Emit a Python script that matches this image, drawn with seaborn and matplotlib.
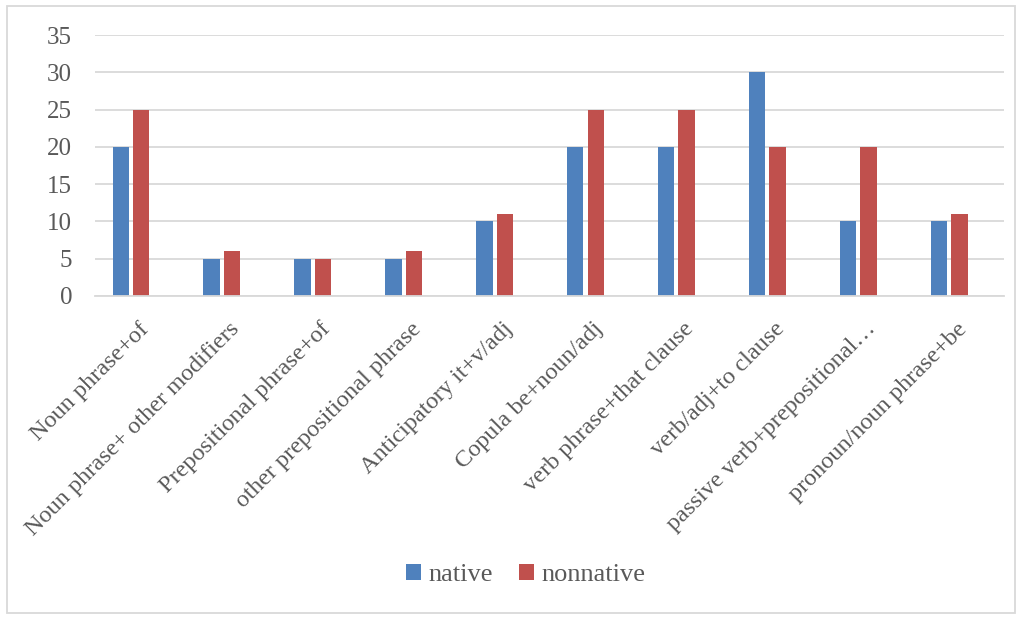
import matplotlib
matplotlib.use("Agg")
import matplotlib.pyplot as plt
import matplotlib.transforms as mtransforms
import seaborn as sns
import pandas as pd
from matplotlib.patches import Rectangle

sns.set_theme(style="white")
plt.rcParams['font.family'] = ['Liberation Serif', 'DejaVu Serif']

categories = ["Noun phrase+of", "Noun phrase+ other modifiers", "Prepositional phrase+of",
              "other prepositional phrase", "Anticipatory it+v/adj", "Copula be+noun/adj",
              "verb phrase+that clause", "verb/adj+to clause", "passive verb+prepositional\u2026",
              "pronoun/noun phrase+be"]
native = [20, 5, 5, 5, 10, 20, 20, 30, 10, 10]
nonnative = [25, 6, 5, 6, 11, 25, 25, 20, 20, 11]
yticks = [0, 5, 10, 15, 20, 25, 30, 35]

df = pd.DataFrame({"cat": categories * 2,
                   "value": native + nonnative,
                   "series": ["native"] * 10 + ["nonnative"] * 10})

fig = plt.figure(figsize=(10.22, 6.19), dpi=100)
ax = fig.add_axes([95 / 1022, 1 - 296 / 619, 909 / 1022, 261 / 619])

sns.barplot(data=df, x="cat", y="value", hue="series", ax=ax,
            palette=["#4F81BD", "#C0504D"], width=0.45, gap=0.2,
            saturation=1, edgecolor="none", legend=True)

ax.set_xlim(-0.396, 9.604)
ax.set_ylim(0, 35)
ax.set_yticks(yticks)
ax.set_yticklabels([str(t) for t in yticks], fontsize=18, color="#595959")
ax.tick_params(axis="y", length=0, pad=16.5)
ax.tick_params(axis="x", length=0, pad=4)
ax.set_xticks(range(len(categories)))
ax.set_xticklabels(categories, rotation=45, ha="right", va="top",
                   rotation_mode="anchor", fontsize=17.5, color="#595959")
shift = mtransforms.ScaledTranslation(0.07, -0.17, fig.dpi_scale_trans)
for lab in ax.get_xticklabels():
    lab.set_transform(lab.get_transform() + shift)
ax.set_xlabel("")
ax.set_ylabel("")
ax.yaxis.grid(True, color="#D9D9D9", lw=1.3)
ax.set_axisbelow(True)
for s in ["left", "right", "top"]:
    ax.spines[s].set_visible(False)
ax.spines["bottom"].set_color("#D9D9D9")
ax.spines["bottom"].set_linewidth(1.3)

h, l = ax.get_legend_handles_labels()
ax.get_legend().remove()
fig.legend(h, l, loc="center", bbox_to_anchor=(526 / 1022, 1 - 575 / 619), ncol=2,
           frameon=False, fontsize=19, handlelength=0.55, handleheight=0.55,
           handletextpad=0.3, columnspacing=1.0, labelcolor="#595959")

fig.patches.append(Rectangle((7 / 1022, 1 - 613 / 619), 1008 / 1022, 607 / 619,
                             transform=fig.transFigure, fill=False,
                             edgecolor="#D9D9D9", lw=1.3))

fig.savefig("out.png", dpi=100)
